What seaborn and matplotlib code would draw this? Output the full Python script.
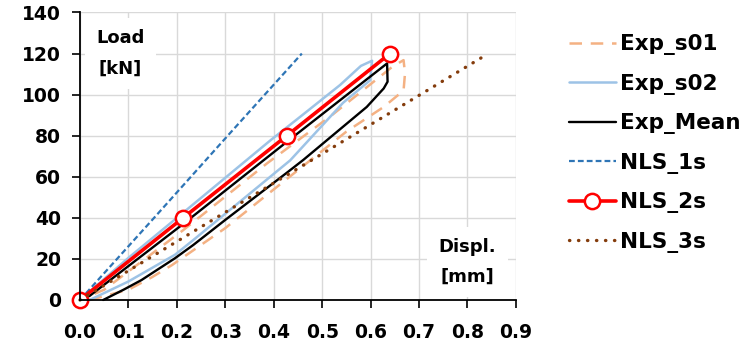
import matplotlib
matplotlib.use("Agg")
import matplotlib.pyplot as plt
import seaborn as sns
import pandas as pd

# Load-displacement paths (displacement in mm, load in kN)
exp_s01_x = [0.02, 0.10, 0.148, 0.19, 0.30, 0.42, 0.55, 0.627, 0.668, 0.671, 0.668,
             0.645, 0.52, 0.386, 0.213, 0.05, 0.0]
exp_s01_y = [0.0, 5.0, 11.0, 17.0, 35.0, 57.6, 82.0, 94.0, 102.0, 110.4, 116.8,
             113.6, 90.0, 66.5, 34.0, 5.0, 0.0]

exp_s02_x = [0.02, 0.10, 0.196, 0.234, 0.30, 0.434, 0.543, 0.599, 0.603,
             0.58, 0.537, 0.461, 0.393, 0.213, 0.10, 0.0]
exp_s02_y = [0.0, 9.0, 22.0, 29.2, 42.0, 68.0, 96.0, 107.0, 116.5,
             114.0, 104.7, 90.4, 77.7, 42.5, 20.5, 0.0]

exp_mean_x = [0.048, 0.09, 0.127, 0.196, 0.234, 0.30, 0.43, 0.461, 0.592, 0.627, 0.635, 0.634,
              0.427, 0.213, 0.02, 0.0]
exp_mean_y = [0.0, 5.0, 9.7, 20.3, 26.8, 39.0, 62.5, 68.2, 94.0, 103.0, 106.3, 115.2,
              77.0, 37.0, 2.0, 0.0]

nls_1s_x = [0.0, 0.153, 0.305, 0.458]
nls_1s_y = [0.0, 40.0, 80.0, 120.0]

nls_2s_x = [0.0, 0.213, 0.427, 0.640]
nls_2s_y = [0.0, 40.0, 80.0, 120.0]

nls_3s_x = [0.0, 0.281, 0.562, 0.843]
nls_3s_y = [0.0, 40.0, 80.0, 120.0]

x_ticks = [0.0, 0.1, 0.2, 0.3, 0.4, 0.5, 0.6, 0.7, 0.8, 0.9]
y_ticks = [0, 20, 40, 60, 80, 100, 120, 140]

sns.set_theme(style="white")
plt.rcParams["font.family"] = ["DejaVu Sans"]
plt.rcParams["text.color"] = "black"

fig = plt.figure(figsize=(7.51, 3.44), dpi=100)
ax = fig.add_axes([0.1065, 0.128, 0.687 - 0.1065, 0.9637 - 0.128])

def draw(xs, ys, label, **kw):
    df = pd.DataFrame({"x": xs, "y": ys})
    sns.lineplot(data=df, x="x", y="y", sort=False, estimator=None, ax=ax,
                 label=label, **kw)

draw(exp_s01_x, exp_s01_y, "Exp_s01", color="#F4B183", lw=1.8,
     dashes=(5, 3.5))
draw(exp_s02_x, exp_s02_y, "Exp_s02", color="#9DC3E6", lw=1.8)
draw(exp_mean_x, exp_mean_y, "Exp_Mean", color="black", lw=1.7)
draw(nls_1s_x, nls_1s_y, "NLS_1s", color="#2E75B6", lw=1.6,
     dashes=(2.6, 1.4))
draw(nls_2s_x, nls_2s_y, "NLS_2s", color="#FF0000", lw=2.6,
     marker="o", markersize=11, markerfacecolor="white",
     markeredgecolor="#FF0000", markeredgewidth=1.8)
nls3 = pd.DataFrame({"x": nls_3s_x, "y": nls_3s_y})
sns.lineplot(data=nls3, x="x", y="y", sort=False, estimator=None, ax=ax,
             label="NLS_3s", color="#843C0C", lw=2.4,
             linestyle=(0, (0.1, 2.6)))
for ln in ax.lines:
    if ln.get_label() == "NLS_3s":
        ln.set_dash_capstyle("round")

ax.set_xlim(0, 0.9)
ax.set_ylim(0, 140)
ax.set_xticks(x_ticks)
ax.set_yticks(y_ticks)
ax.set_xticklabels([f"{v:.1f}" for v in x_ticks], fontsize=13.5,
                   fontweight="bold", color="black")
ax.set_yticklabels([str(v) for v in y_ticks], fontsize=13.5,
                   fontweight="bold", color="black")
ax.set_xlabel("")
ax.set_ylabel("")
ax.grid(True, color="#D9D9D9", lw=1.0)
ax.set_axisbelow(True)
for s in ["top", "right"]:
    ax.spines[s].set_visible(False)
for s in ["left", "bottom"]:
    ax.spines[s].set_color("black")
    ax.spines[s].set_linewidth(1.3)
ax.tick_params(axis="both", direction="out", length=5.5, width=1.2, color="black",
               bottom=True, left=True)
ax.tick_params(axis="y", pad=8)
ax.tick_params(axis="x", pad=11)
for ln in ax.lines:
    ln.set_clip_on(False)

ax.text(0.083, 120, "Load\n[kN]", ha="center", va="center", fontsize=13,
        fontweight="bold", linespacing=1.95, color="black",
        bbox=dict(facecolor="white", edgecolor="none", pad=8))
ax.text(0.8, 18.5, "Displ.\n[mm]", ha="center", va="center", fontsize=13,
        fontweight="bold", linespacing=1.8, color="black",
        bbox=dict(facecolor="white", edgecolor="none", pad=8))

handles, labels = ax.get_legend_handles_labels()
ax.get_legend().remove()
leg = fig.legend(handles, labels, loc="upper left", bbox_to_anchor=(0.757, 0.9),
                 frameon=False, prop={"size": 15.5, "weight": "bold"},
                 handlelength=2.2, handletextpad=0.2, labelspacing=0.86,
                 borderpad=0, borderaxespad=0)
for t in leg.get_texts():
    t.set_color("black")

fig.savefig("out.png", dpi=100)
